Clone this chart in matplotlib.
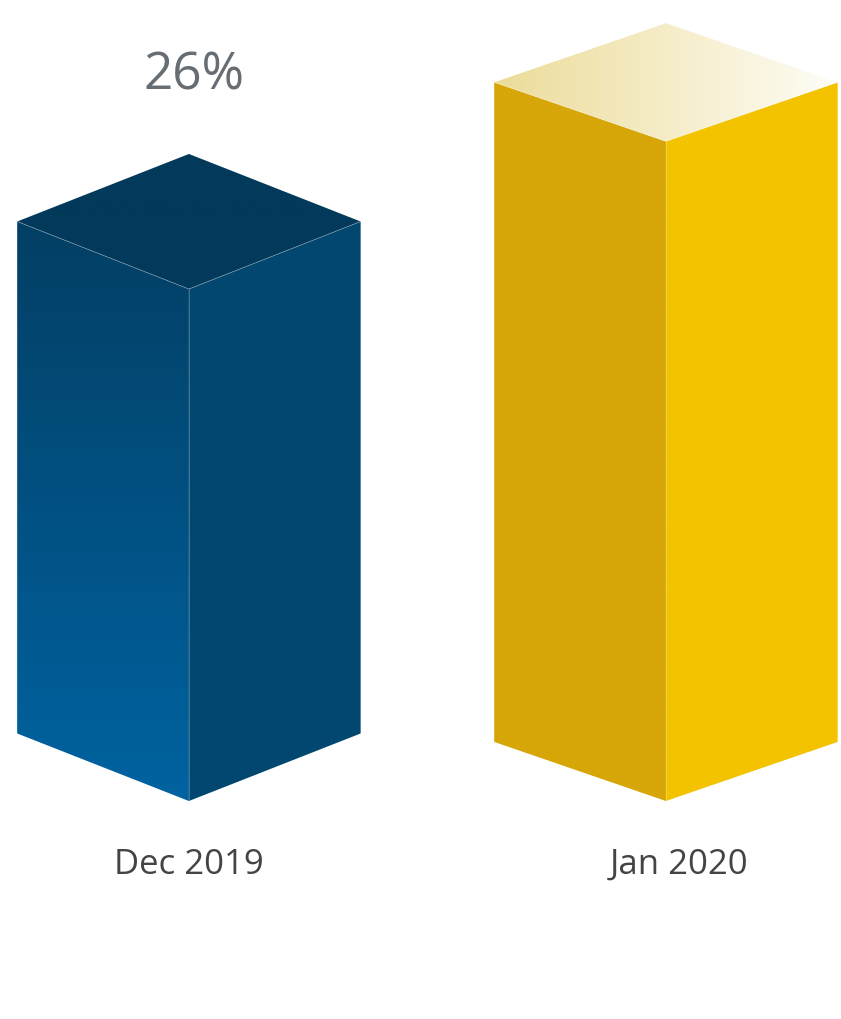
import numpy as np
import matplotlib
matplotlib.use("Agg")
import matplotlib.pyplot as plt
from matplotlib.patches import Polygon
from matplotlib.colors import LinearSegmentedColormap

# chart data
categories = ["Dec 2019", "Jan 2020"]
values = [26, 33.5]
value_labels = ["26%", ""]

# styling per bar: (left face top, left face bottom, right face, top face left, top face right)
bar_colors = [
    ("#033f64", "#0063a1", "#02476f", "#033a5b", "#033a5b"),
    ("#d7a608", "#d7a608", "#f3c300", "#ecdc99", "#fefdf7"),
]
half_depth = [3.43, 3.0]     # half height of the top/bottom diamond, in value units
half_width = 0.36            # in category units
label_shift = [0.0, 0.027]   # horizontal nudge of the category labels

fig = plt.figure(figsize=(8.41, 10.2), dpi=100)
ax = fig.add_axes([0, 0, 1, 1])
ax.set_xlim(-0.396, 1.367)
ax.set_ylim(-11.07, 40.73)
ax.axis("off")

font = ["Open Sans", "DejaVu Sans"]


def gradient_fill(ax, verts, c0, c1, horizontal=False):
    """Fill polygon with a linear gradient c0 -> c1 (top->bottom or left->right)."""
    verts = np.asarray(verts)
    poly = Polygon(verts, closed=True, facecolor="none", edgecolor="none")
    ax.add_patch(poly)
    x0, y0 = verts.min(axis=0)
    x1, y1 = verts.max(axis=0)
    cmap = LinearSegmentedColormap.from_list("g", [c0, c1])
    if horizontal:
        grad = np.linspace(0, 1, 256)[None, :]
    else:
        grad = np.linspace(1, 0, 256)[:, None]
    im = ax.imshow(grad, cmap=cmap, extent=(x0, x1, y0, y1), origin="lower",
                   aspect="auto", interpolation="bicubic", zorder=2)
    im.set_clip_path(poly)


for i, (val, cols) in enumerate(zip(values, bar_colors)):
    d = half_depth[i]
    xl, xc, xr = i - half_width, i, i + half_width
    top = val
    # left face
    left = [(xl, d), (xc, 0), (xc, top), (xl, top + d)]
    gradient_fill(ax, left, cols[0], cols[1])
    # right face
    right = [(xc, 0), (xr, d), (xr, top + d), (xc, top)]
    ax.add_patch(Polygon(right, closed=True, facecolor=cols[2], edgecolor="none", zorder=2))
    # top face
    lid = [(xl, top + d), (xc, top), (xr, top + d), (xc, top + 2 * d)]
    gradient_fill(ax, lid, cols[3], cols[4], horizontal=True)
    # thin highlight lines along the edges
    ax.plot([xc, xc], [0, top], color="white", lw=0.5, alpha=0.35, zorder=3)
    ax.plot([xl, xc, xr], [top + d, top, top + d], color="white", lw=0.6, alpha=0.3, zorder=3)

    if value_labels[i]:
        ax.text(xc + 0.01, top + 2 * d + 4.0, value_labels[i], ha="center", va="center",
                fontsize=37, color="#666d73", family=font)
    ax.text(xc + label_shift[i], -3.2, categories[i], ha="center", va="center",
            fontsize=25, color="#444444", family=font)

fig.savefig("out.png", dpi=100, facecolor="white")
